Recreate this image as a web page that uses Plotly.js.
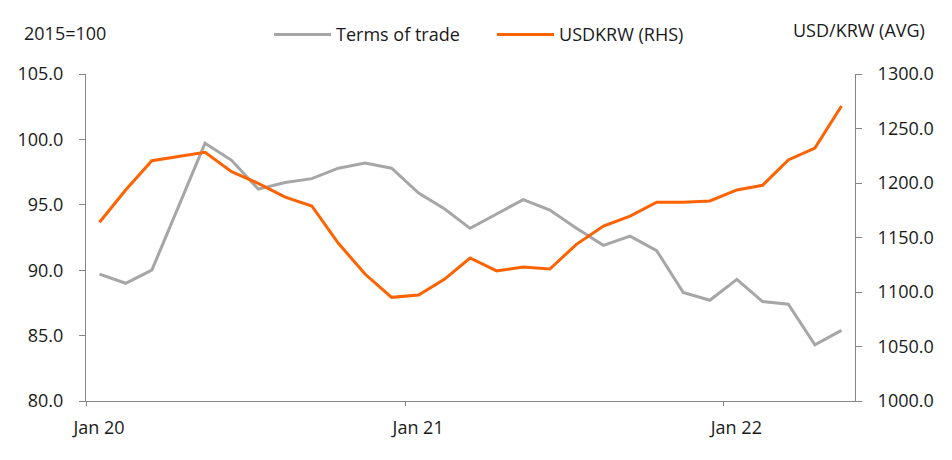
<!DOCTYPE html>
<html>
<head>
<meta charset="utf-8">
<script src="https://cdn.plot.ly/plotly-3.0.1.min.js"></script>
<style>
  html, body { margin: 0; padding: 0; background: #fff; }
  #myDiv { width: 952px; height: 460px; }
</style>
</head>
<body>
<div id="myDiv"></div>
<script>
// monthly, Jan 2020 - May 2022
var months = ['2020-01','2020-02','2020-03','2020-04','2020-05','2020-06','2020-07','2020-08','2020-09','2020-10','2020-11','2020-12',
              '2021-01','2021-02','2021-03','2021-04','2021-05','2021-06','2021-07','2021-08','2021-09','2021-10','2021-11','2021-12',
              '2022-01','2022-02','2022-03','2022-04','2022-05'];

var termsOfTrade = [89.7, 89.0, 90.0, 94.8, 99.7, 98.4, 96.2, 96.7, 97.0, 97.8, 98.2, 97.8,
                    95.9, 94.7, 93.2, 94.3, 95.4, 94.6, 93.2, 91.9, 92.6, 91.5, 88.3, 87.7,
                    89.3, 87.6, 87.4, 84.3, 85.4];

var usdkrw = [1164.0, 1193.6, 1220.4, 1224.5, 1228.1, 1210.4, 1199.7, 1187.1, 1178.9, 1144.7, 1116.5, 1095.1,
              1097.2, 1111.6, 1131.2, 1119.3, 1122.9, 1121.1, 1143.7, 1160.5, 1169.7, 1182.3, 1182.3, 1183.5,
              1193.6, 1197.9, 1221.1, 1232.1, 1270.6];

var xTickVals = ['2020-01-01', '2021-01-01', '2022-01-01'];
var xTickText = ['Jan 20', 'Jan 21', 'Jan 22'];

var FONT = '"Open Sans", "DejaVu Sans", sans-serif';
var FS = 18;
var TXT = '#1a1a1a';
var AXIS_COL = '#868686';

var data = [
  {
    x: months, y: termsOfTrade,
    name: 'Terms of trade',
    type: 'scatter', mode: 'lines',
    xperiod: 'M1', xperiodalignment: 'middle',
    line: {color: '#A6A6A6', width: 3}
  },
  {
    x: months, y: usdkrw,
    name: 'USDKRW (RHS)',
    type: 'scatter', mode: 'lines',
    xperiod: 'M1', xperiodalignment: 'middle',
    yaxis: 'y2',
    line: {color: '#FF6200', width: 3}
  }
];

var layout = {
  width: 952, height: 460,
  margin: {l: 86, r: 97, t: 74, b: 59},
  paper_bgcolor: '#fff', plot_bgcolor: '#fff',
  font: {family: FONT, size: FS, color: TXT},
  showlegend: true,
  legend: {
    orientation: 'h',
    x: 0.238, xanchor: 'left',
    y: 1.12, yanchor: 'middle',
    font: {family: FONT, size: FS, color: TXT},
    itemwidth: 57,
    entrywidth: 151,
    tracegroupgap: 0
  },
  xaxis: {
    type: 'date',
    range: ['2020-01-01', '2022-06-01'],
    tickmode: 'array',
    tickvals: xTickVals,
    ticktext: xTickText,
    ticks: 'outside', ticklen: 4, tickcolor: AXIS_COL,
    ticklabelshift: 13,
    ticklabelstandoff: 6,
    showline: true, linecolor: AXIS_COL, linewidth: 1,
    showgrid: false, zeroline: false,
    tickfont: {family: FONT, size: FS, color: TXT}
  },
  yaxis: {
    range: [80, 105],
    dtick: 5, tick0: 80,
    tickformat: '.1f',
    ticks: 'outside', ticklen: 6, tickcolor: AXIS_COL,
    ticklabelstandoff: 12,
    showline: true, linecolor: AXIS_COL, linewidth: 1,
    showgrid: false, zeroline: false,
    tickfont: {family: FONT, size: FS, color: TXT}
  },
  yaxis2: {
    overlaying: 'y', side: 'right',
    range: [1000, 1300],
    dtick: 50, tick0: 1000,
    tickformat: '.1f',
    ticks: 'outside', ticklen: 6, tickcolor: AXIS_COL,
    ticklabelstandoff: 12,
    showline: true, linecolor: AXIS_COL, linewidth: 1,
    showgrid: false, zeroline: false,
    tickfont: {family: FONT, size: FS, color: TXT}
  },
  annotations: [
    {text: '2015=100', xref: 'paper', yref: 'paper', x: -0.083, y: 1.126,
     xanchor: 'left', yanchor: 'middle', showarrow: false,
     font: {family: FONT, size: FS, color: TXT}},
    {text: 'USD/KRW (AVG)', xref: 'paper', yref: 'paper', x: 1.094, y: 1.135,
     xanchor: 'right', yanchor: 'middle', showarrow: false,
     font: {family: FONT, size: FS, color: TXT}}
  ]
};

Plotly.newPlot('myDiv', data, layout, {displayModeBar: false, staticPlot: true});
</script>
</body>
</html>
